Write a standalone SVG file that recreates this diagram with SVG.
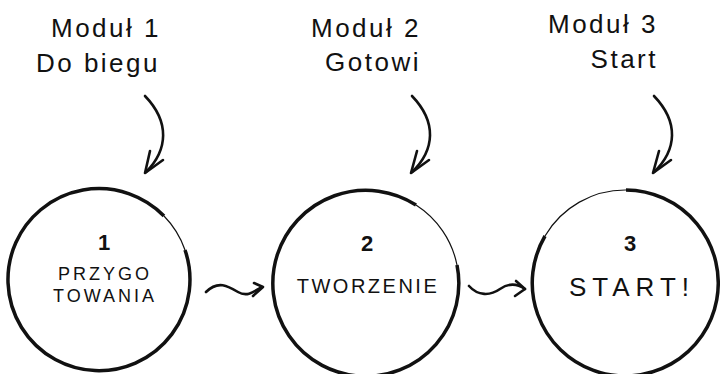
<svg xmlns="http://www.w3.org/2000/svg" width="720" height="374" viewBox="0 0 720 374">
<style>
.lbl{font-family:"Liberation Sans","DejaVu Sans",sans-serif;font-size:26px;fill:#111;text-anchor:end;letter-spacing:2.5px}
.num{font-family:"Liberation Sans","DejaVu Sans",sans-serif;font-size:22px;font-weight:bold;fill:#111;text-anchor:middle}
.txt{font-family:"Liberation Sans","DejaVu Sans",sans-serif;font-size:18px;fill:#111;text-anchor:middle;letter-spacing:3px}
.ring{fill:#fff;stroke:#111;stroke-width:3.5}
.ring2{fill:none;stroke:#111;stroke-width:1.2}
.con{fill:none;stroke:#111;stroke-width:2.6;stroke-linecap:round;stroke-linejoin:round}
</style>
<rect width="720" height="374" fill="#fff"/>
<g id="label1"><text class="lbl" x="161" y="37">Moduł 1</text><text class="lbl" x="160" y="72">Do biegu</text></g>
<g id="label2"><text class="lbl" x="421" y="37">Moduł 2</text><text class="lbl" x="421" y="71">Gotowi</text></g>
<g id="label3"><text class="lbl" x="658" y="33">Moduł 3</text><text class="lbl" x="658" y="68">Start</text></g>
<g id="node1">
<path class="ring" d="M164,216 A91,91 0 1 0 185,250"/>
<path class="ring2" d="M164,216 A91,91 0 0 1 185,250"/>
<text class="num" x="104" y="250">1</text>
<text class="txt" x="105" y="280">PRZYGO</text>
<text class="txt" x="105" y="302">TOWANIA</text>
</g>
<g id="node2">
<path class="ring" d="M416,205 A93,93 0 1 0 457,265"/>
<path class="ring2" d="M416,205 A93,93 0 0 1 457,265"/>
<text class="num" x="367" y="251">2</text>
<text class="txt" x="368" y="293" style="font-size:20px;letter-spacing:2.5px">TWORZENIE</text>
</g>
<g id="node3">
<path class="ring" d="M626,190 A93,93 0 1 1 545,236"/>
<path class="ring2" d="M545,236 A93,93 0 0 1 626,190"/>
<text class="num" x="630" y="251">3</text>
<text class="txt" x="632" y="296" style="font-size:26px;letter-spacing:6px">START!</text>
</g>
<g id="connectors">
<path class="con" d="M145,96 C170,122 168,150 146,172"/>
<path class="con" d="M150,151 L145,173 L163,160"/>
<path class="con" d="M412,96 C437,122 435,150 412,172"/>
<path class="con" d="M417,151 L411,173 L429,160"/>
<path class="con" d="M654,96 C679,122 677,150 654,172"/>
<path class="con" d="M659,151 L653,173 L671,160"/>
<path class="con" d="M206,292 C218,280 228,286 238,292 C248,298 256,290 262,287"/>
<path class="con" d="M254,283 L263,287 L253,296"/>
<path class="con" d="M469,286 C478,296 490,296 500,289 C510,282 518,284 525,289"/>
<path class="con" d="M516,281 L525,289 L515,296"/>
</g>
</svg>
